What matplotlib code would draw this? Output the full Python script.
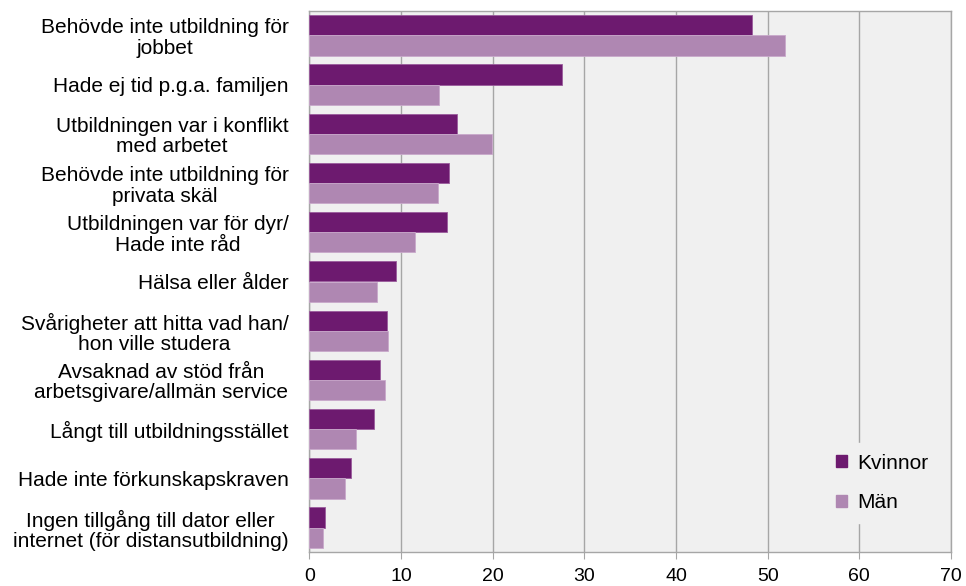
import matplotlib
matplotlib.use("Agg")
import matplotlib.pyplot as plt
import numpy as np
from matplotlib.patches import Patch

plt.rcParams['font.family'] = ['Liberation Sans', 'DejaVu Sans']

categories = [
    "Behövde inte utbildning för\njobbet",
    "Hade ej tid p.g.a. familjen",
    "Utbildningen var i konflikt\nmed arbetet",
    "Behövde inte utbildning för\nprivata skäl",
    "Utbildningen var för dyr/\nHade inte råd",
    "Hälsa eller ålder",
    "Svårigheter att hitta vad han/\nhon ville studera",
    "Avsaknad av stöd från\narbetsgivare/allmän service",
    "Långt till utbildningsstället",
    "Hade inte förkunskapskraven",
    "Ingen tillgång till dator eller\ninternet (för distansutbildning)",
]
kvinnor = [48.3, 27.6, 16.1, 15.2, 15.0, 9.5, 8.5, 7.7, 7.1, 4.5, 1.7]
man = [51.9, 14.2, 19.9, 14.0, 11.5, 7.4, 8.6, 8.3, 5.1, 3.9, 1.5]
xticks = [0, 10, 20, 30, 40, 50, 60, 70]

c_k = "#6d1a6f"
c_m = "#af87b2"
bg = "#f0f0f0"
gridc = "#a6a6a6"

fig = plt.figure(figsize=(9.66, 5.86), dpi=100)
ax = fig.add_axes([309.3 / 966, 1 - 552.3 / 586, (951 - 309.3) / 966, (552.3 - 10.7) / 586])
ax.set_facecolor(bg)

n = len(categories)
y = np.arange(n)
h = 0.41
ax.barh(y - h / 2, kvinnor, height=h, color=c_k, edgecolor="#9a5c9c", linewidth=0.6, zorder=3, label="Kvinnor")
ax.barh(y + h / 2, man, height=h, color=c_m, edgecolor="#c9a9cb", linewidth=0.6, zorder=3, label="Män")

ax.set_ylim(n - 0.5, -0.5)
ax.set_xlim(0, 70)
ax.set_xticks(xticks)
ax.set_xticklabels([str(v) for v in xticks], fontsize=14)
ax.set_yticks(y)
ax.set_yticklabels(categories, fontsize=15, multialignment="center", linespacing=1.1)
ax.tick_params(axis="y", length=0, pad=15)
ax.tick_params(axis="x", length=5, color=gridc, pad=6, direction="out")
ax.xaxis.grid(True, color=gridc, linewidth=1, zorder=0)
ax.set_axisbelow(True)
for s in ax.spines.values():
    s.set_color(gridc)
    s.set_linewidth(1)

handles = [Patch(facecolor=c_k, edgecolor=c_k, label="Kvinnor"),
           Patch(facecolor=c_m, edgecolor=c_m, label="Män")]
leg = ax.legend(handles=handles, loc="center left",
                bbox_to_anchor=(826 / 966, 1 - 483 / 586), bbox_transform=fig.transFigure,
                frameon=True, facecolor=bg, edgecolor=bg, fontsize=15,
                handlelength=0.53, handleheight=0.53, handletextpad=0.48,
                labelspacing=1.0, borderpad=0.5, borderaxespad=0,
                fancybox=False, framealpha=1)
leg.set_zorder(5)

fig.savefig("out.png", dpi=100)
